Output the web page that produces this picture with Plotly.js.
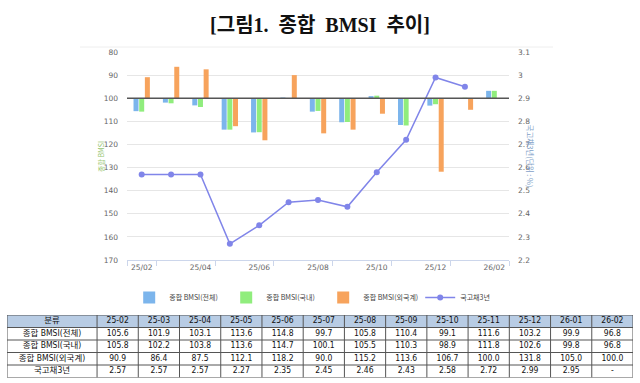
<!DOCTYPE html>
<html><head><meta charset="utf-8">
<script src="https://cdn.plot.ly/plotly-3.0.1.min.js"></script>
<style>html,body{margin:0;padding:0;background:#fff}</style>
</head><body><div id="chart" style="width:640px;height:383px"></div>
<script>
const months = ['25-02','25-03','25-04','25-05','25-06','25-07','25-08','25-09','25-10','25-11','25-12','26-01','26-02'];
const bmsiTotal = [105.6,101.9,103.1,113.6,114.8,99.7,105.8,110.4,99.1,111.6,103.2,99.9,96.8];
const bmsiDomestic = [105.8,102.2,103.8,113.6,114.7,100.1,105.5,110.3,98.9,111.8,102.6,99.8,96.8];
const bmsiForeign = [90.9,86.4,87.5,112.1,118.2,90.0,115.2,113.6,106.7,100.0,131.8,105.0,100.0];
const treasury3y = [2.57,2.57,2.57,2.27,2.35,2.45,2.46,2.43,2.58,2.72,2.99,2.95,null];
const seriesNames = ['종합 BMSI(전체)','종합 BMSI(국내)','종합 BMSI(외국계)','국고채3년'];
const tableHeadLabel = '분류';
const baseLine = 100;

const idx = months.map((m,i)=>i);
const tickIdx = idx.filter(i=>i%2===0);
const tickText = tickIdx.map(i=>months[i].replace('-','/'));
const minorIdx = tickIdx.map(i=>i+0.5).concat([-0.5]);

const W=640,H=383;
const px = v=>v/W, py = v=>1-v/H;

function barTrace(vals,name,color){
  return {type:'bar', x:idx, y:vals.map(v=>v-baseLine), base:baseLine, name:name,
    marker:{color:color}, hoverinfo:'skip'};
}
const traces = [
  barTrace(bmsiTotal,seriesNames[0],'#7cb5ec'),
  barTrace(bmsiDomestic,seriesNames[1],'#90ed7d'),
  barTrace(bmsiForeign,seriesNames[2],'#f7a35c'),
  {type:'scatter', mode:'lines+markers', x:idx, y:treasury3y, yaxis:'y2', name:seriesNames[3],
   line:{color:'#8085e9',width:1.5}, marker:{color:'#8085e9',size:6}, hoverinfo:'skip'}
];

// ---- table (drawn on its own axes) ----
const fmt1 = v=>v.toFixed(1), fmt2 = v=> v==null?'-':v.toFixed(2);
const colWidths = [90].concat(months.map(()=>41.2));
const colEdges = [0];
colWidths.forEach(w=>colEdges.push(colEdges[colEdges.length-1]+w));
const colCenters = colWidths.map((w,i)=>colEdges[i]+w/2);
const tableRows = [
  [tableHeadLabel].concat(months),
  [seriesNames[0]].concat(bmsiTotal.map(fmt1)),
  [seriesNames[1]].concat(bmsiDomestic.map(fmt1)),
  [seriesNames[2]].concat(bmsiForeign.map(fmt1)),
  [seriesNames[3]].concat(treasury3y.map(fmt2))
];
const tx=[],ty=[],tt=[];
tableRows.forEach((row,r)=>row.forEach((t,c)=>{tx.push(colCenters[c]); ty.push(r+0.5); tt.push(t);}));
const tblFont = {family:'"DejaVu Sans Condensed","Liberation Sans Narrow","Noto Sans CJK KR",sans-serif', size:8.5, color:'#111'};
traces.push({type:'scatter', mode:'text', x:tx, y:ty, text:tt, xaxis:'x2', yaxis:'y3',
  textposition:'middle center', textfont:tblFont, showlegend:false, hoverinfo:'skip', cliponaxis:false});

const tableW = colEdges[colEdges.length-1], nRows = tableRows.length;
const shapes = [
  {type:'rect', xref:'x2', yref:'y3', x0:0, x1:tableW, y0:0, y1:1, fillcolor:'#b8cce4', line:{width:0}, layer:'below'},
  {type:'line', xref:'x domain', x0:0, x1:1, yref:'y', y0:baseLine, y1:baseLine, line:{color:'#555',width:1.5}, layer:'above'},
  {type:'line', xref:'paper', x0:px(80), x1:px(553), yref:'paper', y0:py(47), y1:py(47), line:{color:'#eeeeee',width:1}}
];
for(let r=0;r<=nRows;r++) shapes.push({type:'line', xref:'x2', yref:'y3', x0:0, x1:tableW, y0:r, y1:r, line:{color:'#555',width:1}});
colEdges.forEach(x=>shapes.push({type:'line', xref:'x2', yref:'y3', x0:x, x1:x, y0:0, y1:nRows, line:{color:'#555',width:1}}));

const tickFont = {family:'"DejaVu Sans",sans-serif', size:7.5, color:'#666'};
const layout = {
  width:W, height:H, margin:{l:0,r:0,t:0,b:0}, paper_bgcolor:'#fff', plot_bgcolor:'rgba(0,0,0,0)',
  title:{text:'[그림1.  종합  BMSI  추이]', x:0.5, xanchor:'center', y:py(25), yref:'container', yanchor:'middle',
    font:{family:'"Liberation Serif","Noto Sans CJK KR",serif', size:20, color:'#111', weight:'bold'}},
  barmode:'group', bargap:0.42, bargroupgap:0.12,
  showlegend:true,
  legend:{orientation:'h', x:0.505, xanchor:'center', y:py(283), yanchor:'top',
    font:{family:'"Noto Sans CJK KR",sans-serif', size:7, color:'#444'}, itemwidth:30,
    entrywidth:52, entrywidthmode:'pixels', tracegroupgap:0},
  xaxis:{domain:[px(127),px(509)], range:[-0.5,12.5], tickmode:'array', tickvals:tickIdx, ticktext:tickText,
    ticks:'', showgrid:false, zeroline:false, showline:true, linecolor:'#ccd6eb', linewidth:1,
    tickfont:tickFont, fixedrange:true,
    minor:{tickmode:'array', tickvals:minorIdx, ticks:'outside', ticklen:5, tickcolor:'#ccd6eb', showgrid:false}},
  yaxis:{domain:[py(260),py(52)], range:[170,80], dtick:10, showgrid:true, gridcolor:'#e6e6e6', zeroline:false,
    tickfont:tickFont, ticklabelstandoff:8, fixedrange:true},
  yaxis2:{overlaying:'y', side:'right', range:[2.2,3.1], dtick:0.1, showgrid:false, zeroline:false,
    tickfont:tickFont, ticklabelstandoff:8, fixedrange:true},
  xaxis2:{domain:[px(7),px(633)], range:[0,tableW], anchor:'y3', visible:false, fixedrange:true},
  yaxis3:{domain:[py(377.5),py(315)], range:[nRows,0], anchor:'x2', visible:false, fixedrange:true},
  shapes:shapes,
  annotations:[
    {text:'종합 BMSI', xref:'paper', yref:'paper', x:px(94), y:py(157), textangle:-90, showarrow:false,
     font:{family:'"Noto Sans CJK KR",sans-serif', size:7, color:'#94c46e'}},
    {text:'국고채3년(단위 : %)', xref:'paper', yref:'paper', x:px(538), y:py(156), textangle:90, showarrow:false,
     font:{family:'"Noto Sans CJK KR",sans-serif', size:7.5, color:'#7f9fc8'}}
  ]
};
Plotly.newPlot('chart', traces, layout, {displayModeBar:false, staticPlot:true});
</script></body></html>
